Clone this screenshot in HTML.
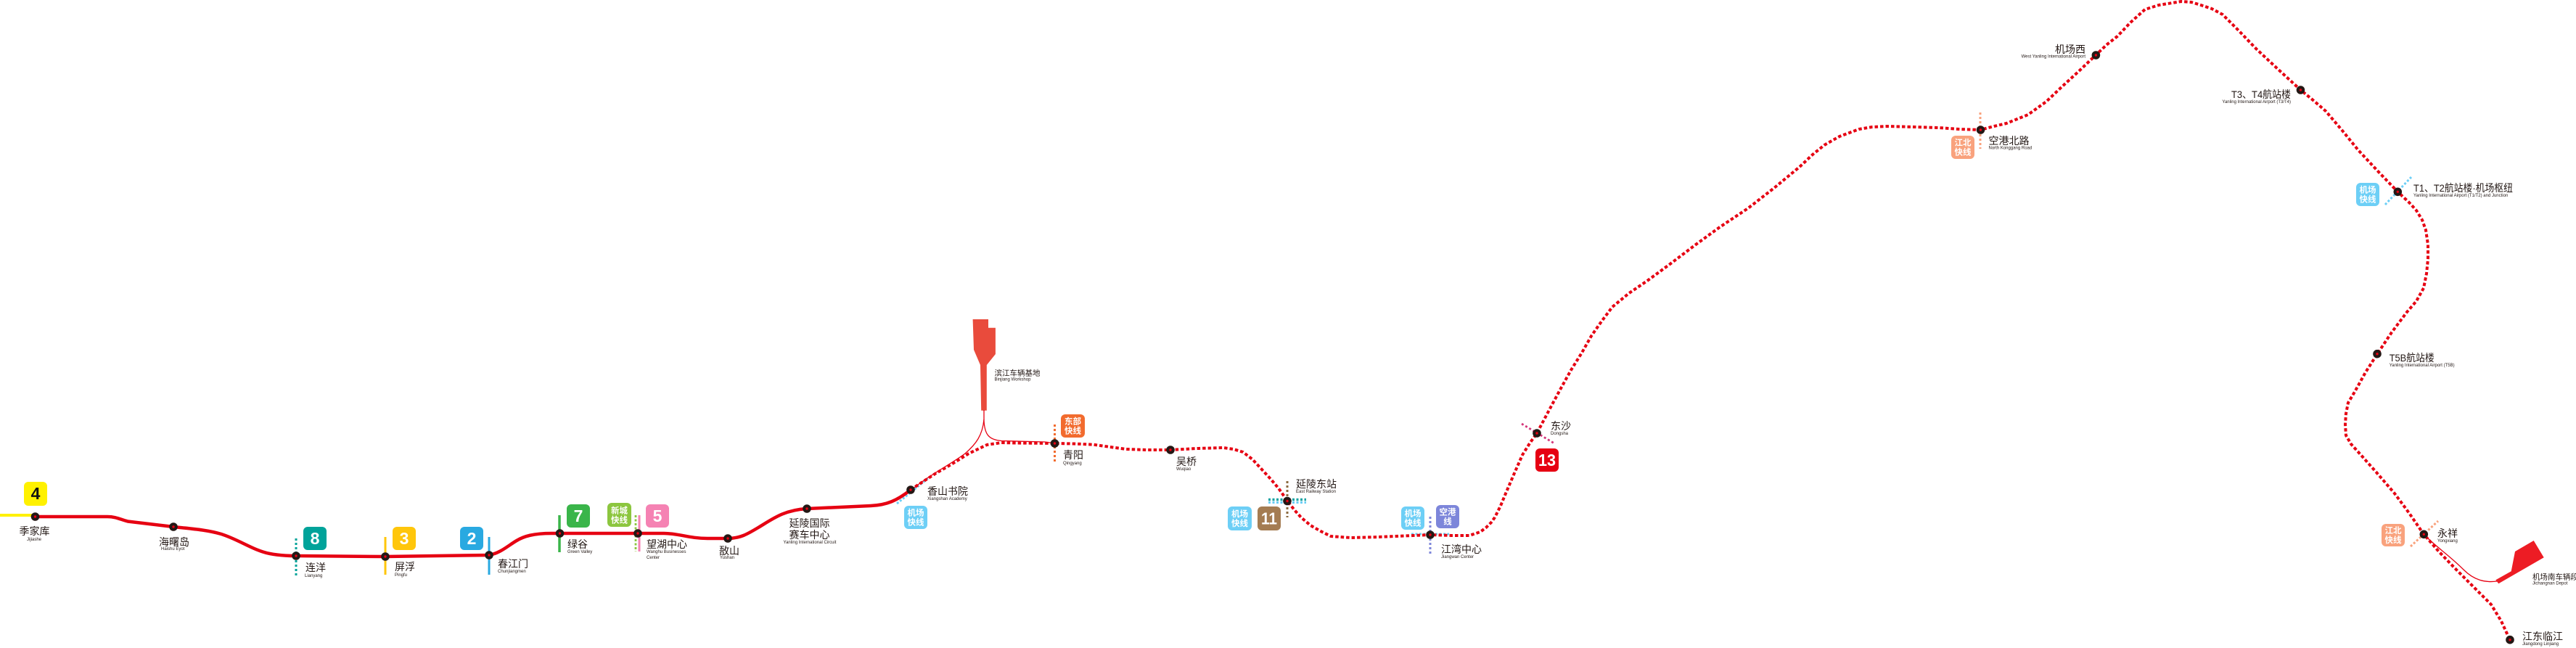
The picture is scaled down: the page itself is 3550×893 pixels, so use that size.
<!DOCTYPE html>
<html>
<head>
<meta charset="utf-8">
<style>
html,body{margin:0;padding:0;background:#fff;}
body{width:3550px;height:893px;overflow:hidden;}
svg{display:block;}
.cn{font-family:"Liberation Sans","Noto Sans CJK SC",sans-serif;font-size:14px;fill:#231815;}
.cs{font-family:"Liberation Sans","Noto Sans CJK SC",sans-serif;font-size:10.5px;fill:#231815;}
.en{font-family:"Liberation Sans",sans-serif;font-size:6px;fill:#231815;}
.bd{font-family:"Liberation Sans","Noto Sans CJK SC",sans-serif;font-weight:bold;fill:#fff;text-anchor:middle;}
.dg{font-family:"Liberation Sans",sans-serif;font-weight:bold;font-size:23px;fill:#fff;text-anchor:middle;}
.bt{font-size:11.5px;}
</style>
</head>
<body>
<svg width="3550" height="893" viewBox="0 0 3550 893" xmlns="http://www.w3.org/2000/svg">

<!-- transfer lines -->
<line x1="0" y1="710" x2="46" y2="710" stroke="#FFF100" stroke-width="4"/>
<line x1="408" y1="742" x2="408" y2="793" stroke="#00A39A" stroke-width="3" stroke-dasharray="3 3"/>
<line x1="531" y1="740" x2="531" y2="792" stroke="#FFC60B" stroke-width="3"/>
<line x1="674" y1="740" x2="674" y2="792" stroke="#29A9E1" stroke-width="3"/>
<line x1="771" y1="710" x2="771" y2="761" stroke="#3AB54A" stroke-width="3.5"/>
<line x1="876" y1="710" x2="876" y2="760" stroke="#8CC63F" stroke-width="2.8" stroke-dasharray="3 2.5"/>
<line x1="881" y1="710" x2="881" y2="760" stroke="#F582B3" stroke-width="3"/>
<line x1="1236" y1="694" x2="1279" y2="659" stroke="#6DCFF6" stroke-width="3" stroke-dasharray="3 2.2"/>
<line x1="1453.5" y1="585" x2="1453.5" y2="637" stroke="#F26B2E" stroke-width="3" stroke-dasharray="3 3"/>
<line x1="1774" y1="663" x2="1774" y2="713" stroke="#8B6A3F" stroke-width="3" stroke-dasharray="3 3"/>
<line x1="1748" y1="688.5" x2="1800" y2="688.5" stroke="#1AA3A3" stroke-width="3.5" stroke-dasharray="3 2.5"/>
<line x1="1748" y1="692.5" x2="1800" y2="692.5" stroke="#6DCFF6" stroke-width="3" stroke-dasharray="3 2.5"/>
<line x1="1971" y1="712" x2="1971" y2="763" stroke="#7D86DA" stroke-width="3" stroke-dasharray="3 3"/>
<line x1="1945" y1="736" x2="1997" y2="736" stroke="#6DCFF6" stroke-width="3" stroke-dasharray="3 2.5"/>
<line x1="2097" y1="584" x2="2142" y2="611" stroke="#D4367A" stroke-width="2.8" stroke-dasharray="3 3"/>
<line x1="2729" y1="155" x2="2729" y2="205" stroke="#F9A27D" stroke-width="3" stroke-dasharray="3 3"/>
<line x1="3287" y1="282" x2="3323" y2="244" stroke="#6DCFF6" stroke-width="3" stroke-dasharray="3 2.5"/>
<line x1="3322" y1="753" x2="3360" y2="718" stroke="#F9A27D" stroke-width="3" stroke-dasharray="3 2.5"/>

<!-- depots -->
<polygon points="1340.6,440 1362,440 1362,451.7 1371.9,451.7 1371.9,488 1359.8,503 1359.8,565.7 1352.2,565.7 1351,503 1342,482" fill="#E94B3C"/>
<path d="M1356,565 L1356,580 C1357,598 1362,606 1380,607.5 L1440,609 L1453.5,611" fill="none" stroke="#E60012" stroke-width="1.3"/>
<path d="M1356,578 C1354,600 1345,612 1330,625 C1310,640 1280,655 1255,676" fill="none" stroke="#E60012" stroke-width="1.3"/>
<polygon points="3439.3,799.3 3443.3,804.3 3505.7,768.3 3491.7,745 3466,760 3460.7,787.3" fill="#ED1C24"/>
<path d="M3340,736 C3355,752 3375,765 3395,785 C3410,800 3425,803 3441,801" fill="none" stroke="#E60012" stroke-width="1.3"/>

<!-- main solid line -->
<path d="M48,712 L148,712 C160,712 166,716 176,718.5 L239,726 C262,728.5 285,730 305,736 C330,744 350,759 372,763 C385,765.5 395,766 408,766 L531,767 L674,765 C690,762 700,752 712,745 C722,739 735,735 760,735 L915,735 C935,735 950,742 975,742 L1003,742 C1020,742 1030,736 1045,727 C1065,715 1080,703 1112,701 L1200,697 C1222,696 1236,690 1255,675" fill="none" stroke="#E60012" stroke-width="4.5" stroke-linejoin="round"/>

<!-- main dotted line -->
<polyline fill="none" stroke="#E60012" stroke-width="4" stroke-dasharray="4.5 3" stroke-linejoin="round" points="1255,675 1267,667 1290,652 1311,640 1335,625 1360,613 1380,610 1400,610.5 1453.5,611 1480,611.5 1507,612.7 1530,616 1552,619 1580,620 1613,620 1650,618 1686,617 1700,619 1713,623 1726,633 1739,647 1751,660 1762,673 1774,690 1784,703 1793,713 1806,724 1820,732 1834,739 1861,741 1900,740 1971,737 2000,738 2025,738 2040,733 2048,727 2055,720 2060,713 2068,697 2075,680 2087,652 2098,627 2108,611 2118,597 2127,580 2136,563 2150,537 2165,510 2180,486 2193,463 2207,443 2222,423 2245,404 2270,387 2300,365 2337,337 2370,313 2409,287 2445,259 2480,230 2498,213 2514,200 2535,188 2562,178 2580,175 2600,174 2640,175 2672,176 2700,178 2729,179 2748,174 2765,170 2795,158 2820,140 2841,120 2865,98 2888,76 2904,61 2918,50 2936,31 2956,13 2975,7 3006,2 3020,3 3033,7 3048,12 3063,20 3085,42 3109,67 3140,96 3170.5,124 3190,140 3205,153 3228,180 3250,207 3278,237 3304,264 3320,279 3330,290 3338,303 3343,317 3346,337 3346,357 3344,377 3340,397 3330,415 3317,430 3296,458 3276,488 3260,513 3245,540 3236,555 3233,570 3232,585 3233,600 3240,612 3250,623 3275,651 3300,680 3320,707 3340,736 3360,759 3383,783 3410,810 3433,833 3447,856 3459,882"/>

<!-- station dots -->
<g fill="#231815">
<circle cx="48.5" cy="712" r="5.8"/>
<circle cx="239" cy="726" r="5.8"/>
<circle cx="408" cy="766" r="5.8"/>
<circle cx="531" cy="767" r="5.8"/>
<circle cx="674" cy="765" r="5.8"/>
<circle cx="771.5" cy="735" r="5.8"/>
<circle cx="879" cy="735" r="5.8"/>
<circle cx="1003" cy="742" r="5.8"/>
<circle cx="1112" cy="701" r="5.8"/>
<circle cx="1255" cy="675" r="5.8"/>
<circle cx="1453.5" cy="611" r="5.8"/>
<circle cx="1613" cy="620" r="5.8"/>
<circle cx="1774" cy="690.5" r="5.8"/>
<circle cx="1971" cy="737" r="5.8"/>
<circle cx="2118" cy="597" r="5.8"/>
<circle cx="2729.5" cy="179" r="5.8"/>
<circle cx="2888.4" cy="76" r="5.8"/>
<circle cx="3170.5" cy="124" r="5.8"/>
<circle cx="3304.3" cy="264.3" r="5.8"/>
<circle cx="3276" cy="487.7" r="5.8"/>
<circle cx="3340.3" cy="736.3" r="5.8"/>
<circle cx="3459" cy="881.7" r="5.8"/>
</g>
<g fill="#E60012">
<circle cx="48.5" cy="712" r="1.7"/>
<circle cx="239" cy="726" r="1.7"/>
<circle cx="408" cy="766" r="1.7"/>
<circle cx="531" cy="767" r="1.7"/>
<circle cx="674" cy="765" r="1.7"/>
<circle cx="771.5" cy="735" r="1.7"/>
<circle cx="879" cy="735" r="1.7"/>
<circle cx="1003" cy="742" r="1.7"/>
<circle cx="1112" cy="701" r="1.7"/>
<circle cx="1255" cy="675" r="1.7"/>
<circle cx="1453.5" cy="611" r="1.7"/>
<circle cx="1613" cy="620" r="1.7"/>
<circle cx="1774" cy="690.5" r="1.7"/>
<circle cx="1971" cy="737" r="1.7"/>
<circle cx="2118" cy="597" r="1.7"/>
<circle cx="2729.5" cy="179" r="1.7"/>
<circle cx="2888.4" cy="76" r="1.7"/>
<circle cx="3170.5" cy="124" r="1.7"/>
<circle cx="3304.3" cy="264.3" r="1.7"/>
<circle cx="3276" cy="487.7" r="1.7"/>
<circle cx="3340.3" cy="736.3" r="1.7"/>
<circle cx="3459" cy="881.7" r="1.7"/>
</g>

<!-- badges -->
<rect x="33" y="664" width="32" height="33" rx="6" fill="#FFF100"/>
<text x="49" y="688" class="dg" style="fill:#111">4</text>
<rect x="418" y="726" width="32" height="32" rx="6" fill="#00A39A"/>
<text x="434" y="750" class="dg">8</text>
<rect x="541" y="726" width="32" height="32" rx="6" fill="#FFC60B"/>
<text x="557" y="750" class="dg">3</text>
<rect x="634" y="726" width="32" height="32" rx="6" fill="#29A9E1"/>
<text x="650" y="750" class="dg">2</text>
<rect x="781" y="695" width="32" height="32" rx="6" fill="#3AB54A"/>
<text x="797" y="719" class="dg">7</text>
<rect x="837" y="693" width="33" height="33" rx="6" fill="#8CC63F"/>
<text x="853.5" y="707.5" class="bd bt">新城</text>
<text x="853.5" y="720.5" class="bd bt">快线</text>
<rect x="890" y="695" width="32" height="32" rx="6" fill="#F582B3"/>
<text x="906" y="719" class="dg">5</text>
<rect x="1246" y="697" width="32" height="32" rx="6" fill="#6DCFF6"/>
<text x="1262" y="710.5" class="bd bt">机场</text>
<text x="1262" y="723.5" class="bd bt">快线</text>
<rect x="1462" y="571" width="33" height="32" rx="6" fill="#F26B2E"/>
<text x="1478.5" y="584.5" class="bd bt">东部</text>
<text x="1478.5" y="597.5" class="bd bt">快线</text>
<rect x="1692" y="698" width="33" height="33" rx="6" fill="#6DCFF6"/>
<text x="1708.5" y="712" class="bd bt">机场</text>
<text x="1708.5" y="725" class="bd bt">快线</text>
<rect x="1733" y="698" width="32" height="33" rx="6" fill="#A47C52"/>
<text x="1749" y="722.5" class="dg" textLength="22" lengthAdjust="spacingAndGlyphs">11</text>
<rect x="1931" y="698" width="32" height="32" rx="6" fill="#6DCFF6"/>
<text x="1947" y="711.5" class="bd bt">机场</text>
<text x="1947" y="724.5" class="bd bt">快线</text>
<rect x="1979" y="696" width="32" height="32" rx="6" fill="#7D86DA"/>
<text x="1995" y="709.5" class="bd bt">空港</text>
<text x="1995" y="722.5" class="bd bt">线</text>
<rect x="2116" y="618" width="32" height="32" rx="6" fill="#E60012"/>
<text x="2132" y="642" class="dg" textLength="24" lengthAdjust="spacingAndGlyphs">13</text>
<rect x="2689" y="187" width="32" height="32" rx="6" fill="#F9A27D"/>
<text x="2705" y="200.5" class="bd bt">江北</text>
<text x="2705" y="213.5" class="bd bt">快线</text>
<rect x="3247" y="252" width="32" height="32" rx="6" fill="#6DCFF6"/>
<text x="3263" y="265.5" class="bd bt">机场</text>
<text x="3263" y="278.5" class="bd bt">快线</text>
<rect x="3282" y="722" width="32" height="31" rx="6" fill="#F9A27D"/>
<text x="3298" y="735" class="bd bt">江北</text>
<text x="3298" y="748" class="bd bt">快线</text>

<!-- labels -->
<text x="26.5" y="737" class="cn">季家库</text>
<text x="37" y="745" class="en">Jijiashe</text>
<text x="219" y="752" class="cn">海曙岛</text>
<text x="222" y="758" class="en">Haishu Eyot</text>
<text x="421" y="787" class="cn">连洋</text>
<text x="420" y="795" class="en">Lianyang</text>
<text x="544" y="786" class="cn">屏浮</text>
<text x="544" y="794" class="en">Pingfu</text>
<text x="686" y="782" class="cn">春江门</text>
<text x="686" y="789" class="en">Chunjiangmen</text>
<text x="782" y="755" class="cn">绿谷</text>
<text x="782" y="762" class="en">Green Valley</text>
<text x="891" y="755" class="cn">望湖中心</text>
<text x="891" y="762" class="en">Wanghu Businesses</text>
<text x="891" y="770" class="en">Center</text>
<text x="991" y="764" class="cn">敔山</text>
<text x="992" y="770" class="en">Yushan</text>
<text x="1115.5" y="726" class="cn" text-anchor="middle">延陵国际</text>
<text x="1115.5" y="742" class="cn" text-anchor="middle">赛车中心</text>
<text x="1116" y="749" class="en" text-anchor="middle">Yanling International Circuit</text>
<text x="1278" y="682" class="cn">香山书院</text>
<text x="1278" y="689" class="en">Xiangshan Academy</text>
<text x="1370.5" y="517.5" class="cs">滨江车辆基地</text>
<text x="1370.5" y="524.5" class="en">Binjiang Workshop</text>
<text x="1465" y="632" class="cn">青阳</text>
<text x="1465" y="640" class="en">Qingyang</text>
<text x="1621" y="641" class="cn">吴桥</text>
<text x="1621" y="648" class="en">Wuqiao</text>
<text x="1786" y="672" class="cn">延陵东站</text>
<text x="1786" y="679" class="en">East Railway Station</text>
<text x="1986" y="762" class="cn">江湾中心</text>
<text x="1986" y="769" class="en">Jiangwan Center</text>
<text x="2137" y="592" class="cn">东沙</text>
<text x="2137" y="599" class="en">Dongsha</text>
<text x="2740.5" y="199" class="cn">空港北路</text>
<text x="2740.5" y="205.5" class="en">North Konggang Road</text>
<text x="2874" y="73" class="cn" text-anchor="end">机场西</text>
<text x="2874" y="79.5" class="en" text-anchor="end">West Yanling International Airport</text>
<text x="3157" y="135" class="cn" text-anchor="end" textLength="82" lengthAdjust="spacingAndGlyphs">T3、T4航站楼</text>
<text x="3157" y="142" class="en" text-anchor="end">Yanling International Airport (T3/T4)</text>
<text x="3326" y="264" class="cn" textLength="137" lengthAdjust="spacingAndGlyphs">T1、T2航站楼·机场枢纽</text>
<text x="3326" y="271" class="en">Yanling International Airport (T1/T2) and Junction</text>
<text x="3292.7" y="498" class="cn" textLength="62" lengthAdjust="spacingAndGlyphs">T5B航站楼</text>
<text x="3292.7" y="505" class="en">Yanling International Airport (T5B)</text>
<text x="3359" y="740" class="cn">永祥</text>
<text x="3359" y="747" class="en">Yongxiang</text>
<text x="3490" y="798.5" class="cs">机场南车辆段</text>
<text x="3490" y="805.5" class="en">Jichangnan Depot</text>
<text x="3476" y="882" class="cn">江东临江</text>
<text x="3476" y="889" class="en">Jiangdong Linjiang</text>
</svg>
</body>
</html>
